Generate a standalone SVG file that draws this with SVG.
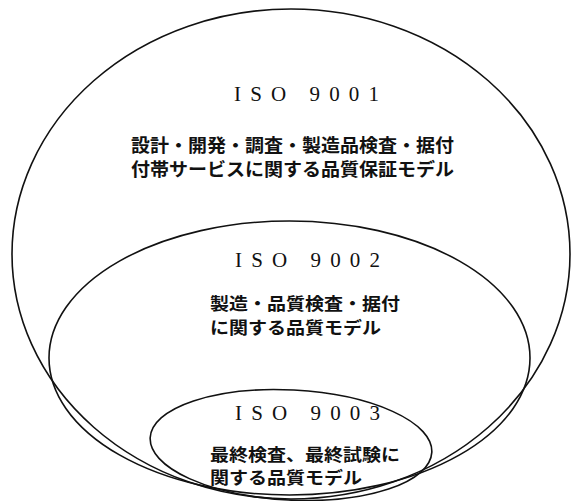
<svg xmlns="http://www.w3.org/2000/svg" width="571" height="501" viewBox="0 0 571 501">
<style>
.shape{fill:none;stroke:#111;stroke-width:1.6}
.iso{font-family:"Liberation Serif","Times New Roman",serif;font-size:21px;fill:#111}
.jp{font-family:"Noto Sans CJK JP","Noto Sans",sans-serif;font-size:18px;font-weight:bold;fill:#111}
.jps{font-family:"Noto Sans CJK JP","Noto Sans",sans-serif;font-size:17px;font-weight:bold;fill:#111}
</style>
<rect width="571" height="501" fill="#fff"/>
<g id="iso9001">
<ellipse class="shape" cx="291" cy="254" rx="279" ry="245"/>
<text class="iso" x="234" y="101" textLength="145" lengthAdjust="spacing">ISO 9001</text>
<text class="jp" x="131" y="152" textLength="323" lengthAdjust="spacingAndGlyphs">設計・開発・調査・製造品検査・据付</text>
<text class="jp" x="131" y="176" textLength="323" lengthAdjust="spacingAndGlyphs">付帯サービスに関する品質保証モデル</text>
</g>
<g id="iso9002">
<ellipse class="shape" cx="289.5" cy="358" rx="240.5" ry="137"/>
<text class="iso" x="235" y="267" textLength="145" lengthAdjust="spacing">ISO 9002</text>
<text class="jps" x="210" y="310" textLength="190" lengthAdjust="spacingAndGlyphs">製造・品質検査・据付</text>
<text class="jps" x="210" y="334" textLength="171" lengthAdjust="spacingAndGlyphs">に関する品質モデル</text>
</g>
<g id="iso9003">
<ellipse class="shape" cx="291" cy="445" rx="141" ry="55" transform="rotate(3 291 445)"/>
<text class="iso" x="235" y="420" textLength="145" lengthAdjust="spacing">ISO 9003</text>
<text class="jps" x="210" y="461" textLength="190" lengthAdjust="spacingAndGlyphs">最終検査、最終試験に</text>
<text class="jps" x="210" y="484" textLength="152" lengthAdjust="spacingAndGlyphs">関する品質モデル</text>
</g>
<g id="connectors"></g>
</svg>
